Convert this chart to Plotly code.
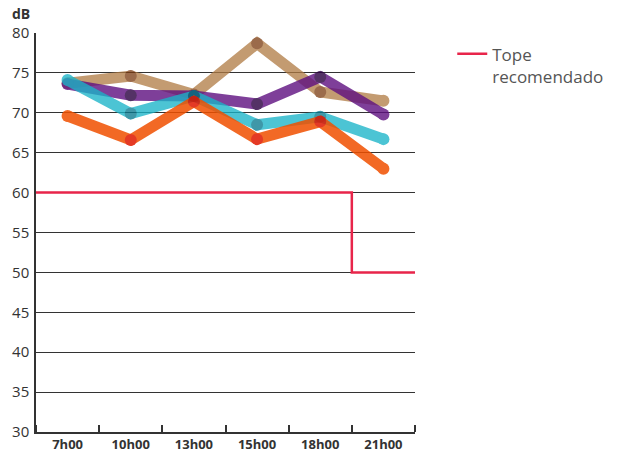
import plotly.graph_objects as go

categories = ["7h00", "10h00", "13h00", "15h00", "18h00", "21h00"]
brown_db = [73.7, 74.6, 72.3, 78.7, 72.6, 71.5]
purple_db = [73.6, 72.2, 72.1, 71.1, 74.5, 69.8]
cyan_db = [74.1, 69.9, 72.1, 68.5, 69.5, 66.7]
orange_db = [69.6, 66.6, 71.4, 66.7, 68.9, 63.0]
limit_edges = [-0.5, 4.5, 5.5]
limit_db = [60, 50, 50]
y_ticks = [30, 35, 40, 45, 50, 55, 60, 65, 70, 75, 80]

x_idx = list(range(len(categories)))

series = [
    (brown_db, "#b07a42", "#7a3a10", 0.75),
    (purple_db, "#5e1080", "#2a0040", 0.8),
    (cyan_db, "#1ab4c8", "#0a7a90", 0.78),
    (orange_db, "#f05000", "#e01800", 0.85),
]

fig = go.Figure()
for vals, lc, mc, op in series:
    n = len(vals)
    colors = [lc] + [mc] * (n - 2) + [lc]
    fig.add_trace(go.Scatter(
        x=x_idx, y=vals, mode="lines+markers", showlegend=False,
        opacity=op,
        line=dict(color=lc, width=11),
        marker=dict(color=colors, size=12, line=dict(width=0))))

fig.add_trace(go.Scatter(
    x=limit_edges, y=limit_db, mode="lines", line_shape="hv",
    name="Tope<br>recomendado", line=dict(color="#e8254a", width=2.5),
    showlegend=True))

fig.update_layout(
    width=617, height=454,
    margin=dict(l=36, r=202, t=33, b=22),
    paper_bgcolor="white", plot_bgcolor="white",
    font=dict(family="Open Sans", color="#333"),
    legend=dict(xref="container", yref="container", x=0.733, y=0.92,
                xanchor="left", yanchor="top", valign="top",
                font=dict(size=17, color="#555"), bgcolor="rgba(0,0,0,0)",
                itemwidth=30),
    xaxis=dict(
        range=[-0.5, 5.5], tickvals=x_idx, ticktext=categories,
        ticks="", showgrid=False, zeroline=False, automargin=False,
        showline=True, linecolor="#333", linewidth=1.5,
        tickfont=dict(size=13, color="#333", family="Open Sans", weight="bold"),
        minor=dict(tick0=0.5, dtick=1, ticks="inside", ticklen=7,
                   tickcolor="#333", tickwidth=1.5, showgrid=False),
    ),
    yaxis=dict(
        range=[30, 80], tickvals=y_ticks, ticks="", automargin=False,
        showgrid=True, gridcolor="#333", gridwidth=1,
        zeroline=False, showline=True, linecolor="#333", linewidth=1.5,
        tickfont=dict(size=15, color="#333"), ticklabelstandoff=2,
    ),
    annotations=[dict(text="<b>dB</b>", xref="paper", yref="paper",
                      x=-0.01, y=1.02, xanchor="right", yanchor="bottom",
                      showarrow=False, font=dict(size=14, color="#333"))],
)

fig.write_html("out.html", config={"displayModeBar": False},
               post_script="document.body.style.margin='0';document.body.style.overflow='hidden';")
